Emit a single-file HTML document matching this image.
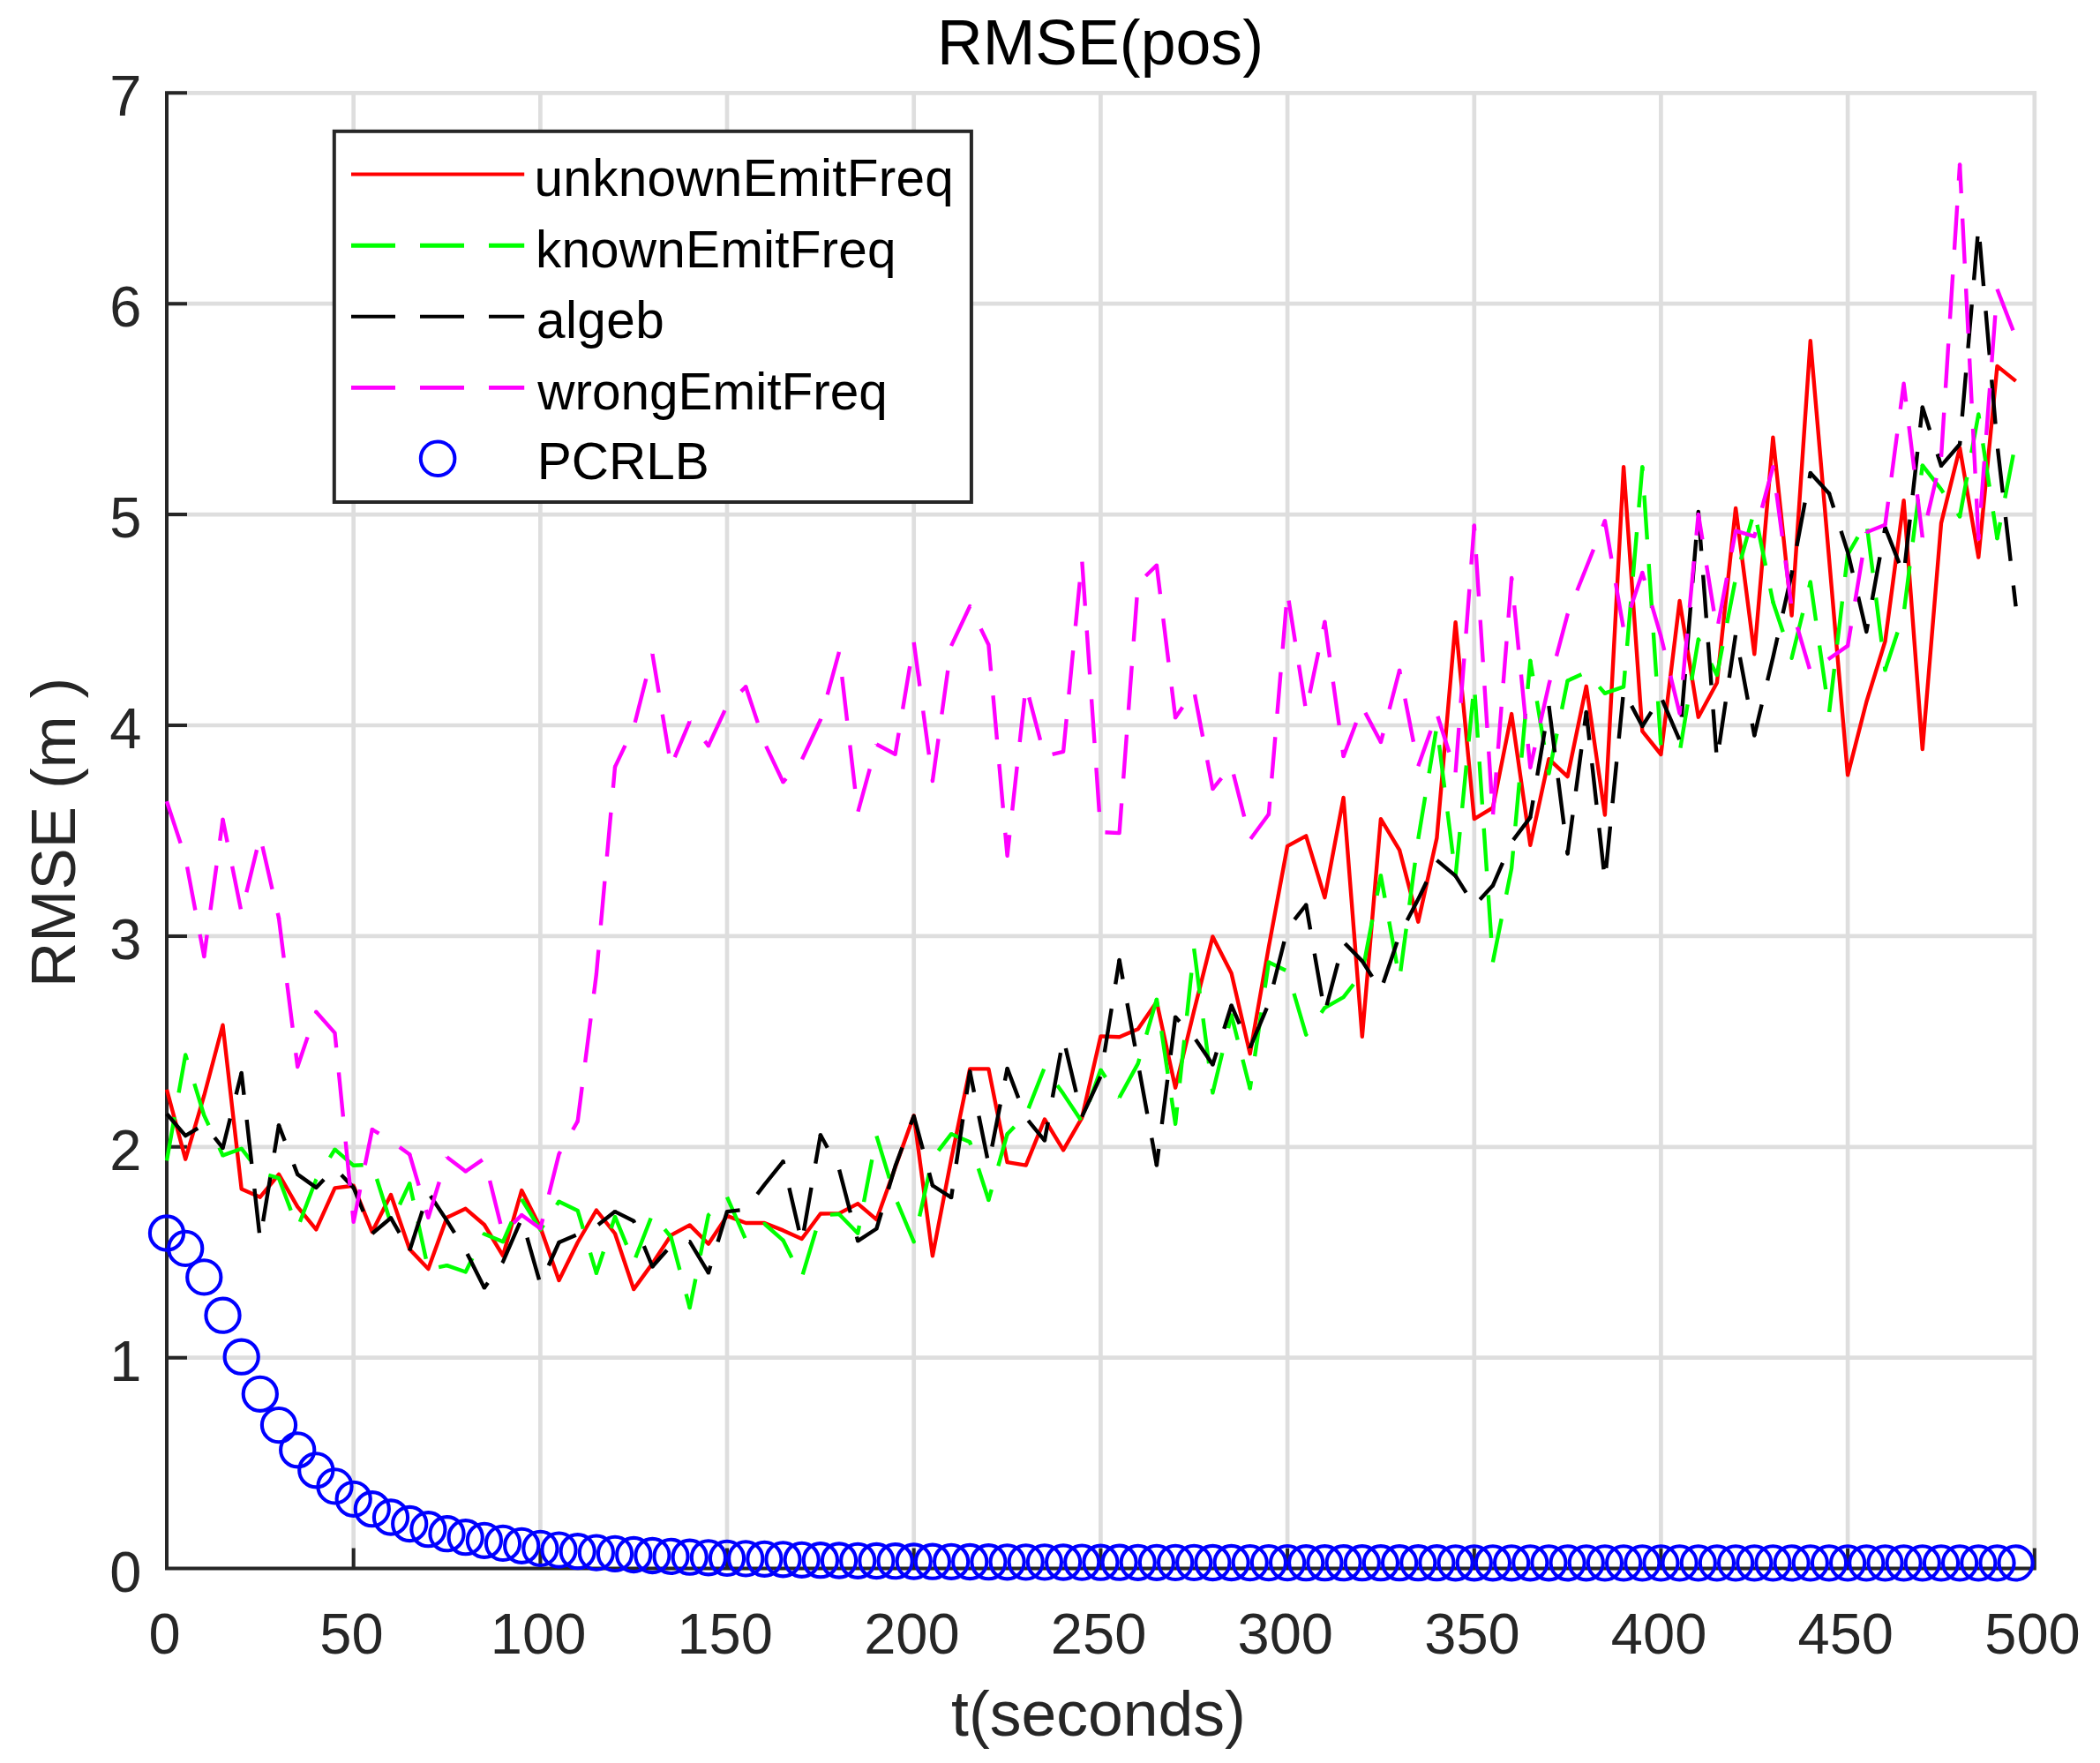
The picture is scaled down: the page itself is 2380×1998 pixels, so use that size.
<!DOCTYPE html><html><head><meta charset="utf-8"><title>RMSE(pos)</title>
<style>html,body{margin:0;padding:0;background:#fff}svg{display:block}text{font-family:"Liberation Sans",sans-serif}</style></head><body>
<svg width="2380" height="1998" viewBox="0 0 2380 1998">
<rect width="2380" height="1998" fill="#fff"/>
<path d="M400.7 103.3 V1777.6 M612.4 103.3 V1777.6 M824.0 103.3 V1777.6 M1035.7 103.3 V1777.6 M1247.4 103.3 V1777.6 M1459.1 103.3 V1777.6 M1670.8 103.3 V1777.6 M1882.4 103.3 V1777.6 M2094.1 103.3 V1777.6 M2305.8 103.3 V1777.6 M189.0 1538.7 H2307.8 M189.0 1299.8 H2307.8 M189.0 1060.9 H2307.8 M189.0 822.0 H2307.8 M189.0 583.1 H2307.8 M189.0 344.2 H2307.8 M189.0 105.3 H2307.8" stroke="#dedede" stroke-width="4.7" fill="none"/>
<path d="M189.0 103.3 V1777.6 H2307.8 M189.0 1777.6 V1754.6 M400.7 1777.6 V1754.6 M612.4 1777.6 V1754.6 M824.0 1777.6 V1754.6 M1035.7 1777.6 V1754.6 M1247.4 1777.6 V1754.6 M1459.1 1777.6 V1754.6 M1670.8 1777.6 V1754.6 M1882.4 1777.6 V1754.6 M2094.1 1777.6 V1754.6 M2305.8 1777.6 V1754.6 M189.0 1777.6 H212.0 M189.0 1538.7 H212.0 M189.0 1299.8 H212.0 M189.0 1060.9 H212.0 M189.0 822.0 H212.0 M189.0 583.1 H212.0 M189.0 344.2 H212.0 M189.0 105.3 H212.0" stroke="#262626" stroke-width="4" fill="none" stroke-linecap="butt"/>
<defs><clipPath id="c"><rect x="187.0" y="103.3" width="2120.8" height="1676.3"/></clipPath></defs>
<g clip-path="url(#c)" fill="none" stroke-width="4.4" stroke-linejoin="round">
<path d="M189.0 1234.8 L210.2 1313.7 L231.3 1241.7 L252.5 1161.7 L273.7 1347.6 L294.8 1356.7 L316.0 1330.9 L337.2 1367.6 L358.3 1393.4 L379.5 1346.4 L400.7 1343.8 L421.8 1396.1 L443.0 1354.0 L464.2 1415.7 L485.4 1438.1 L506.5 1379.8 L527.7 1369.8 L548.9 1388.0 L570.0 1423.1 L591.2 1349.0 L612.4 1391.1 L633.5 1451.0 L654.7 1408.0 L675.9 1371.5 L697.0 1398.0 L718.2 1461.1 L739.4 1431.9 L760.5 1399.9 L781.7 1388.4 L802.9 1409.7 L824.0 1377.9 L845.2 1386.0 L866.4 1386.0 L887.5 1394.4 L908.7 1404.0 L929.9 1375.5 L951.0 1375.1 L972.2 1364.1 L993.4 1382.2 L1014.6 1323.0 L1035.7 1264.2 L1056.9 1423.3 L1078.1 1313.7 L1099.2 1211.4 L1120.4 1211.4 L1141.6 1317.2 L1162.7 1320.6 L1183.9 1268.5 L1205.1 1303.4 L1226.2 1266.8 L1247.4 1174.4 L1268.6 1175.3 L1289.7 1166.3 L1310.9 1135.4 L1332.1 1232.7 L1353.2 1145.7 L1374.4 1061.4 L1395.6 1102.9 L1416.7 1194.2 L1437.9 1073.1 L1459.1 958.9 L1480.2 947.4 L1501.4 1017.2 L1522.6 903.9 L1543.8 1174.9 L1564.9 928.1 L1586.1 963.4 L1607.3 1044.7 L1628.4 949.8 L1649.6 705.2 L1670.8 928.1 L1691.9 915.4 L1713.1 809.1 L1734.3 957.7 L1755.4 860.2 L1776.6 880.1 L1797.8 777.8 L1818.9 923.5 L1840.1 529.1 L1861.3 828.7 L1882.4 855.0 L1903.6 681.0 L1924.8 812.7 L1945.9 773.7 L1967.1 575.9 L1988.3 741.3 L2009.4 495.7 L2030.6 697.5 L2051.8 386.2 L2073.0 633.3 L2094.1 878.4 L2115.3 795.5 L2136.5 726.9 L2157.6 567.1 L2178.8 849.0 L2200.0 592.9 L2221.1 507.6 L2242.3 631.6 L2263.5 414.9 L2284.6 431.9" stroke="#f00"/>
<path d="M189.0 1315.3 L210.2 1195.4 L231.3 1264.0 L252.5 1309.4" stroke="#0f0" stroke-dasharray="50.00 28.00" stroke-dashoffset="0.0"/>
<path d="M252.5 1309.4 L273.7 1301.7 L294.8 1329.2 L316.0 1335.2" stroke="#0f0" stroke-dasharray="49.06 27.47" stroke-dashoffset="9.4"/>
<path d="M316.0 1335.2 L337.2 1391.8 L358.3 1336.8 L379.5 1302.7" stroke="#0f0" stroke-dasharray="51.76 28.98" stroke-dashoffset="12.7"/>
<path d="M379.5 1302.7 L400.7 1320.8 L421.8 1319.6 L443.0 1386.5 L464.2 1341.1" stroke="#0f0" stroke-dasharray="49.00 27.44" stroke-dashoffset="10.2"/>
<path d="M464.2 1341.1 L485.4 1438.8 L506.5 1434.1" stroke="#0f0" stroke-dasharray="43.52 24.37" stroke-dashoffset="23.7"/>
<path d="M506.5 1434.1 L527.7 1441.5 L548.9 1398.5 L570.0 1407.3" stroke="#0f0" stroke-dasharray="50.98 28.55" stroke-dashoffset="11.2"/>
<path d="M570.0 1407.3 L591.2 1359.0" stroke="#0f0" stroke-dasharray="48.35 27.07" stroke-dashoffset="23.7"/>
<path d="M591.2 1359.0 L612.4 1393.7 L633.5 1361.7" stroke="#0f0" stroke-dasharray="48.27 27.03" stroke-dashoffset="1.0"/>
<path d="M633.5 1361.7 L654.7 1371.9 L675.9 1442.9" stroke="#0f0" stroke-dasharray="50.04 28.02" stroke-dashoffset="4.8"/>
<path d="M675.9 1442.9 L697.0 1378.9" stroke="#0f0" stroke-dasharray="49.88 27.93" stroke-dashoffset="24.2"/>
<path d="M697.0 1378.9 L718.2 1430.5 L739.4 1376.0 L760.5 1402.0" stroke="#0f0" stroke-dasharray="47.95 26.85" stroke-dashoffset="13.3"/>
<path d="M760.5 1402.0 L781.7 1482.1" stroke="#0f0" stroke-dasharray="50.54 28.30" stroke-dashoffset="12.1"/>
<path d="M781.7 1482.1 L802.9 1377.0 L824.0 1356.7" stroke="#0f0" stroke-dasharray="48.74 27.29" stroke-dashoffset="15.5"/>
<path d="M824.0 1356.7 L845.2 1404.9 L866.4 1387.0 L887.5 1405.6" stroke="#0f0" stroke-dasharray="50.81 28.45" stroke-dashoffset="0.0"/>
<path d="M887.5 1405.6 L908.7 1447.9 L929.9 1377.4 L951.0 1376.0" stroke="#0f0" stroke-dasharray="51.90 29.06" stroke-dashoffset="30.0"/>
<path d="M951.0 1376.0 L972.2 1397.7 L993.4 1287.4" stroke="#0f0" stroke-dasharray="48.81 27.33" stroke-dashoffset="9.6"/>
<path d="M993.4 1287.4 L1014.6 1357.1 L1035.7 1407.3 L1056.9 1312.7 L1078.1 1285.2" stroke="#0f0" stroke-dasharray="50.23 28.13" stroke-dashoffset="0.0"/>
<path d="M1078.1 1285.2 L1099.2 1294.3 L1120.4 1360.0" stroke="#0f0" stroke-dasharray="50.25 28.14" stroke-dashoffset="23.9"/>
<path d="M1120.4 1360.0 L1141.6 1285.2" stroke="#0f0" stroke-dasharray="49.44 27.68" stroke-dashoffset="37.0"/>
<path d="M1141.6 1285.2 L1162.7 1263.5 L1183.9 1209.7 L1205.1 1239.6 L1226.2 1271.4 L1247.4 1212.6" stroke="#0f0" stroke-dasharray="47.85 26.79" stroke-dashoffset="36.4"/>
<path d="M1247.4 1212.6 L1268.6 1243.9" stroke="#0f0" stroke-dasharray="47.83 26.78" stroke-dashoffset="37.8"/>
<path d="M1268.6 1243.9 L1289.7 1205.4 L1310.9 1132.6" stroke="#0f0" stroke-dasharray="50.63 28.35" stroke-dashoffset="1.0"/>
<path d="M1310.9 1132.6 L1332.1 1273.8 L1353.2 1075.0" stroke="#0f0" stroke-dasharray="49.13 27.51" stroke-dashoffset="40.6"/>
<path d="M1353.2 1075.0 L1374.4 1238.4 L1395.6 1150.5" stroke="#0f0" stroke-dasharray="51.27 28.71" stroke-dashoffset="0.0"/>
<path d="M1395.6 1150.5 L1416.7 1233.6" stroke="#0f0" stroke-dasharray="41.01 22.96" stroke-dashoffset="12.2"/>
<path d="M1416.7 1233.6 L1437.9 1090.5" stroke="#0f0" stroke-dasharray="50.40 28.23" stroke-dashoffset="41.8"/>
<path d="M1437.9 1090.5 L1459.1 1100.6 L1480.2 1172.7 L1501.4 1142.1" stroke="#0f0" stroke-dasharray="50.71 28.40" stroke-dashoffset="29.4"/>
<path d="M1501.4 1142.1 L1522.6 1130.2 L1543.8 1102.9 L1564.9 992.1" stroke="#0f0" stroke-dasharray="49.81 27.89" stroke-dashoffset="6.9"/>
<path d="M1564.9 992.1 L1586.1 1109.6" stroke="#0f0" stroke-dasharray="48.35 27.08" stroke-dashoffset="22.4"/>
<path d="M1586.1 1109.6 L1607.3 950.8 L1628.4 823.0" stroke="#0f0" stroke-dasharray="48.43 27.12" stroke-dashoffset="66.5"/>
<path d="M1628.4 823.0 L1649.6 993.1 L1670.8 776.1 L1691.9 1090.3" stroke="#0f0" stroke-dasharray="48.63 27.23" stroke-dashoffset="54.4"/>
<path d="M1691.9 1090.3 L1713.1 984.0 L1734.3 748.7" stroke="#0f0" stroke-dasharray="50.05 28.03" stroke-dashoffset="0.0"/>
<path d="M1734.3 748.7 L1755.4 876.5 L1776.6 771.4" stroke="#0f0" stroke-dasharray="50.51 28.28" stroke-dashoffset="32.6"/>
<path d="M1776.6 771.4 L1797.8 761.8 L1818.9 785.7" stroke="#0f0" stroke-dasharray="50.13 28.07" stroke-dashoffset="32.8"/>
<path d="M1818.9 785.7 L1840.1 778.3 L1861.3 529.1" stroke="#0f0" stroke-dasharray="50.50 28.28" stroke-dashoffset="9.8"/>
<path d="M1861.3 529.1 L1882.4 844.7 L1903.6 852.6 L1924.8 724.5 L1945.9 764.9" stroke="#0f0" stroke-dasharray="49.92 27.95" stroke-dashoffset="45.4"/>
<path d="M1945.9 764.9 L1967.1 655.5 L1988.3 578.8 L2009.4 682.2" stroke="#0f0" stroke-dasharray="47.23 26.45" stroke-dashoffset="13.8"/>
<path d="M2009.4 682.2 L2030.6 745.8 L2051.8 659.5" stroke="#0f0" stroke-dasharray="53.64 30.04" stroke-dashoffset="17.8"/>
<path d="M2051.8 659.5 L2073.0 808.1" stroke="#0f0" stroke-dasharray="50.30 28.17" stroke-dashoffset="5.8"/>
<path d="M2073.0 808.1 L2094.1 628.5" stroke="#0f0" stroke-dasharray="49.43 27.68" stroke-dashoffset="76.1"/>
<path d="M2094.1 628.5 L2115.3 591.7" stroke="#0f0" stroke-dasharray="47.69 26.71" stroke-dashoffset="24.8"/>
<path d="M2115.3 591.7 L2136.5 759.4" stroke="#0f0" stroke-dasharray="50.46 28.26" stroke-dashoffset="71.1"/>
<path d="M2136.5 759.4 L2157.6 695.1 L2178.8 527.4" stroke="#0f0" stroke-dasharray="49.03 27.45" stroke-dashoffset="3.9"/>
<path d="M2178.8 527.4 L2200.0 554.7 L2221.1 585.5" stroke="#0f0" stroke-dasharray="50.62 28.35" stroke-dashoffset="11.5"/>
<path d="M2221.1 585.5 L2242.3 469.4 L2263.5 610.3" stroke="#0f0" stroke-dasharray="49.91 27.95" stroke-dashoffset="4.4"/>
<path d="M2263.5 610.3 L2284.6 500.4" stroke="#0f0" stroke-dasharray="50.00 28.00" stroke-dashoffset="31.4"/>
<circle cx="252.5" cy="1309.4" r="2.2" fill="#0f0" stroke="none"/>
<circle cx="316.0" cy="1335.2" r="2.2" fill="#0f0" stroke="none"/>
<circle cx="379.5" cy="1302.7" r="2.2" fill="#0f0" stroke="none"/>
<circle cx="464.2" cy="1341.1" r="2.2" fill="#0f0" stroke="none"/>
<circle cx="506.5" cy="1434.1" r="2.2" fill="#0f0" stroke="none"/>
<circle cx="570.0" cy="1407.3" r="2.2" fill="#0f0" stroke="none"/>
<circle cx="633.5" cy="1361.7" r="2.2" fill="#0f0" stroke="none"/>
<circle cx="675.9" cy="1442.9" r="2.2" fill="#0f0" stroke="none"/>
<circle cx="697.0" cy="1378.9" r="2.2" fill="#0f0" stroke="none"/>
<circle cx="760.5" cy="1402.0" r="2.2" fill="#0f0" stroke="none"/>
<circle cx="781.7" cy="1482.1" r="2.2" fill="#0f0" stroke="none"/>
<circle cx="887.5" cy="1405.6" r="2.2" fill="#0f0" stroke="none"/>
<circle cx="951.0" cy="1376.0" r="2.2" fill="#0f0" stroke="none"/>
<circle cx="1078.1" cy="1285.2" r="2.2" fill="#0f0" stroke="none"/>
<circle cx="1120.4" cy="1360.0" r="2.2" fill="#0f0" stroke="none"/>
<circle cx="1141.6" cy="1285.2" r="2.2" fill="#0f0" stroke="none"/>
<circle cx="1247.4" cy="1212.6" r="2.2" fill="#0f0" stroke="none"/>
<circle cx="1310.9" cy="1132.6" r="2.2" fill="#0f0" stroke="none"/>
<circle cx="1395.6" cy="1150.5" r="2.2" fill="#0f0" stroke="none"/>
<circle cx="1416.7" cy="1233.6" r="2.2" fill="#0f0" stroke="none"/>
<circle cx="1437.9" cy="1090.5" r="2.2" fill="#0f0" stroke="none"/>
<circle cx="1501.4" cy="1142.1" r="2.2" fill="#0f0" stroke="none"/>
<circle cx="1564.9" cy="992.1" r="2.2" fill="#0f0" stroke="none"/>
<circle cx="1734.3" cy="748.7" r="2.2" fill="#0f0" stroke="none"/>
<circle cx="1776.6" cy="771.4" r="2.2" fill="#0f0" stroke="none"/>
<circle cx="1818.9" cy="785.7" r="2.2" fill="#0f0" stroke="none"/>
<circle cx="1861.3" cy="529.1" r="2.2" fill="#0f0" stroke="none"/>
<circle cx="1945.9" cy="764.9" r="2.2" fill="#0f0" stroke="none"/>
<circle cx="2009.4" cy="682.2" r="2.2" fill="#0f0" stroke="none"/>
<circle cx="2051.8" cy="659.5" r="2.2" fill="#0f0" stroke="none"/>
<circle cx="2094.1" cy="628.5" r="2.2" fill="#0f0" stroke="none"/>
<circle cx="2136.5" cy="759.4" r="2.2" fill="#0f0" stroke="none"/>
<circle cx="2178.8" cy="527.4" r="2.2" fill="#0f0" stroke="none"/>
<circle cx="2221.1" cy="585.5" r="2.2" fill="#0f0" stroke="none"/>
<circle cx="2263.5" cy="610.3" r="2.2" fill="#0f0" stroke="none"/>
<path d="M189.0 1262.3 L210.2 1287.1 L231.3 1274.2 L252.5 1301.0" stroke="#000" stroke-dasharray="49.06 27.47" stroke-dashoffset="0.0"/>
<path d="M252.5 1301.0 L273.7 1215.9" stroke="#000" stroke-dasharray="49.85 27.92" stroke-dashoffset="15.3"/>
<path d="M273.7 1215.9 L294.8 1404.7 L316.0 1275.2" stroke="#000" stroke-dasharray="50.46 28.26" stroke-dashoffset="25.4"/>
<path d="M316.0 1275.2 L337.2 1330.9" stroke="#000" stroke-dasharray="50.81 28.46" stroke-dashoffset="31.9"/>
<path d="M337.2 1330.9 L358.3 1345.9 L379.5 1323.9 L400.7 1345.9" stroke="#000" stroke-dasharray="50.76 28.43" stroke-dashoffset="12.2"/>
<path d="M400.7 1345.9 L421.8 1398.0" stroke="#000" stroke-dasharray="48.21 27.00" stroke-dashoffset="19.0"/>
<path d="M421.8 1398.0 L443.0 1380.3" stroke="#000" stroke-dasharray="51.45 28.81" stroke-dashoffset="0.0"/>
<path d="M443.0 1380.3 L464.2 1417.3" stroke="#000" stroke-dasharray="41.65 23.33" stroke-dashoffset="22.3"/>
<path d="M464.2 1417.3 L485.4 1351.4" stroke="#000" stroke-dasharray="47.17 26.42" stroke-dashoffset="0.0"/>
<path d="M485.4 1351.4 L506.5 1383.4 L527.7 1417.3 L548.9 1459.4" stroke="#000" stroke-dasharray="49.94 27.96" stroke-dashoffset="73.3"/>
<path d="M548.9 1459.4 L570.0 1430.0 L591.2 1381.0 L612.4 1455.1 L633.5 1408.0" stroke="#000" stroke-dasharray="49.59 27.77" stroke-dashoffset="42.6"/>
<path d="M633.5 1408.0 L654.7 1398.9 L675.9 1389.6 L697.0 1373.1" stroke="#000" stroke-dasharray="49.86 27.92" stroke-dashoffset="28.9"/>
<path d="M697.0 1373.1 L718.2 1383.7 L739.4 1435.5" stroke="#000" stroke-dasharray="50.53 28.30" stroke-dashoffset="24.5"/>
<path d="M739.4 1435.5 L760.5 1411.6 L781.7 1407.1 L802.9 1442.4" stroke="#000" stroke-dasharray="49.94 27.96" stroke-dashoffset="25.0"/>
<path d="M802.9 1442.4 L824.0 1373.1" stroke="#000" stroke-dasharray="50.66 28.37" stroke-dashoffset="42.5"/>
<path d="M824.0 1373.1 L845.2 1370.5 L866.4 1342.6 L887.5 1316.3" stroke="#000" stroke-dasharray="50.30 28.17" stroke-dashoffset="35.6"/>
<path d="M887.5 1316.3 L908.7 1408.0 L929.9 1286.2" stroke="#000" stroke-dasharray="49.39 27.66" stroke-dashoffset="46.4"/>
<path d="M929.9 1286.2 L951.0 1325.1 L972.2 1406.3" stroke="#000" stroke-dasharray="50.30 28.17" stroke-dashoffset="33.7"/>
<path d="M972.2 1406.3 L993.4 1392.5 L1014.6 1321.8 L1035.7 1264.7 L1056.9 1343.5" stroke="#000" stroke-dasharray="49.52 27.73" stroke-dashoffset="5.0"/>
<path d="M1056.9 1343.5 L1078.1 1357.1" stroke="#000" stroke-dasharray="49.55 27.75" stroke-dashoffset="14.9"/>
<path d="M1078.1 1357.1 L1099.2 1214.3" stroke="#000" stroke-dasharray="51.18 28.66" stroke-dashoffset="41.4"/>
<path d="M1099.2 1214.3 L1120.4 1319.4 L1141.6 1210.9" stroke="#000" stroke-dasharray="48.86 27.36" stroke-dashoffset="24.9"/>
<path d="M1141.6 1210.9 L1162.7 1266.8 L1183.9 1292.6" stroke="#000" stroke-dasharray="50.08 28.05" stroke-dashoffset="14.3"/>
<path d="M1183.9 1292.6 L1205.1 1176.5 L1226.2 1265.6" stroke="#000" stroke-dasharray="51.20 28.67" stroke-dashoffset="30.0"/>
<path d="M1226.2 1265.6 L1247.4 1220.0 L1268.6 1087.9" stroke="#000" stroke-dasharray="50.08 28.05" stroke-dashoffset="0.0"/>
<path d="M1268.6 1087.9 L1289.7 1204.7 L1310.9 1320.6" stroke="#000" stroke-dasharray="49.75 27.86" stroke-dashoffset="27.7"/>
<path d="M1310.9 1320.6 L1332.1 1152.6" stroke="#000" stroke-dasharray="50.59 28.33" stroke-dashoffset="31.9"/>
<path d="M1332.1 1152.6 L1353.2 1175.3 L1374.4 1206.6" stroke="#000" stroke-dasharray="48.67 27.25" stroke-dashoffset="41.7"/>
<path d="M1374.4 1206.6 L1395.6 1139.5" stroke="#000" stroke-dasharray="50.21 28.12" stroke-dashoffset="35.6"/>
<path d="M1395.6 1139.5 L1416.7 1187.5" stroke="#000" stroke-dasharray="51.05 28.59" stroke-dashoffset="28.2"/>
<path d="M1416.7 1187.5 L1437.9 1137.1 L1459.1 1052.5 L1480.2 1025.5" stroke="#000" stroke-dasharray="49.99 27.99" stroke-dashoffset="1.0"/>
<path d="M1480.2 1025.5 L1501.4 1147.6 L1522.6 1067.4 L1543.8 1089.1" stroke="#000" stroke-dasharray="49.20 27.55" stroke-dashoffset="20.9"/>
<path d="M1543.8 1089.1 L1564.9 1122.3 L1586.1 1059.5 L1607.3 1019.1 L1628.4 974.9" stroke="#000" stroke-dasharray="48.68 27.26" stroke-dashoffset="27.6"/>
<path d="M1628.4 974.9 L1649.6 992.6" stroke="#000" stroke-dasharray="52.43 29.36" stroke-dashoffset="0.0"/>
<path d="M1649.6 992.6 L1670.8 1026.3 L1691.9 1003.6" stroke="#000" stroke-dasharray="47.66 26.69" stroke-dashoffset="25.1"/>
<path d="M1691.9 1003.6 L1713.1 954.4 L1734.3 926.4" stroke="#000" stroke-dasharray="51.29 28.72" stroke-dashoffset="23.2"/>
<path d="M1734.3 926.4 L1755.4 800.0" stroke="#000" stroke-dasharray="51.26 28.70" stroke-dashoffset="31.8"/>
<path d="M1755.4 800.0 L1776.6 967.5" stroke="#000" stroke-dasharray="52.82 29.58" stroke-dashoffset="0.0"/>
<path d="M1776.6 967.5 L1797.8 806.9" stroke="#000" stroke-dasharray="48.08 26.92" stroke-dashoffset="3.7"/>
<path d="M1797.8 806.9 L1818.9 997.6 L1840.1 782.8 L1861.3 823.0" stroke="#000" stroke-dasharray="47.26 26.46" stroke-dashoffset="15.3"/>
<path d="M1861.3 823.0 L1882.4 789.7" stroke="#000" stroke-dasharray="42.34 23.71" stroke-dashoffset="23.3"/>
<path d="M1882.4 789.7 L1903.6 839.0 L1924.8 580.0 L1945.9 861.7 L1967.1 718.8 L1988.3 833.5" stroke="#000" stroke-dasharray="48.91 27.39" stroke-dashoffset="72.4"/>
<path d="M1988.3 833.5 L2009.4 745.1 L2030.6 650.2 L2051.8 536.0" stroke="#000" stroke-dasharray="50.00 28.00" stroke-dashoffset="14.0"/>
<path d="M2051.8 536.0 L2073.0 559.2" stroke="#000" stroke-dasharray="58.78 32.91" stroke-dashoffset="7.3"/>
<path d="M2073.0 559.2 L2094.1 625.6 L2115.3 715.9 L2136.5 597.9" stroke="#000" stroke-dasharray="49.45 27.69" stroke-dashoffset="32.5"/>
<path d="M2136.5 597.9 L2157.6 651.4 L2178.8 461.5" stroke="#000" stroke-dasharray="49.53 27.74" stroke-dashoffset="6.3"/>
<path d="M2178.8 461.5 L2200.0 527.9" stroke="#000" stroke-dasharray="50.95 28.53" stroke-dashoffset="23.8"/>
<path d="M2200.0 527.9 L2221.1 503.5 L2242.3 257.0" stroke="#000" stroke-dasharray="49.74 27.85" stroke-dashoffset="13.7"/>
<path d="M2242.3 257.0 L2263.5 503.5" stroke="#000" stroke-dasharray="50.30 28.17" stroke-dashoffset="61.4"/>
<path d="M2263.5 503.5 L2284.6 687.3" stroke="#000" stroke-dasharray="50.00 28.00" stroke-dashoffset="73.0"/>
<circle cx="252.5" cy="1301.0" r="2.2" fill="#000" stroke="none"/>
<circle cx="273.7" cy="1215.9" r="2.2" fill="#000" stroke="none"/>
<circle cx="316.0" cy="1275.2" r="2.2" fill="#000" stroke="none"/>
<circle cx="337.2" cy="1330.9" r="2.2" fill="#000" stroke="none"/>
<circle cx="400.7" cy="1345.9" r="2.2" fill="#000" stroke="none"/>
<circle cx="443.0" cy="1380.3" r="2.2" fill="#000" stroke="none"/>
<circle cx="548.9" cy="1459.4" r="2.2" fill="#000" stroke="none"/>
<circle cx="633.5" cy="1408.0" r="2.2" fill="#000" stroke="none"/>
<circle cx="697.0" cy="1373.1" r="2.2" fill="#000" stroke="none"/>
<circle cx="739.4" cy="1435.5" r="2.2" fill="#000" stroke="none"/>
<circle cx="802.9" cy="1442.4" r="2.2" fill="#000" stroke="none"/>
<circle cx="824.0" cy="1373.1" r="2.2" fill="#000" stroke="none"/>
<circle cx="887.5" cy="1316.3" r="2.2" fill="#000" stroke="none"/>
<circle cx="929.9" cy="1286.2" r="2.2" fill="#000" stroke="none"/>
<circle cx="972.2" cy="1406.3" r="2.2" fill="#000" stroke="none"/>
<circle cx="1056.9" cy="1343.5" r="2.2" fill="#000" stroke="none"/>
<circle cx="1078.1" cy="1357.1" r="2.2" fill="#000" stroke="none"/>
<circle cx="1099.2" cy="1214.3" r="2.2" fill="#000" stroke="none"/>
<circle cx="1141.6" cy="1210.9" r="2.2" fill="#000" stroke="none"/>
<circle cx="1183.9" cy="1292.6" r="2.2" fill="#000" stroke="none"/>
<circle cx="1268.6" cy="1087.9" r="2.2" fill="#000" stroke="none"/>
<circle cx="1310.9" cy="1320.6" r="2.2" fill="#000" stroke="none"/>
<circle cx="1332.1" cy="1152.6" r="2.2" fill="#000" stroke="none"/>
<circle cx="1374.4" cy="1206.6" r="2.2" fill="#000" stroke="none"/>
<circle cx="1395.6" cy="1139.5" r="2.2" fill="#000" stroke="none"/>
<circle cx="1480.2" cy="1025.5" r="2.2" fill="#000" stroke="none"/>
<circle cx="1543.8" cy="1089.1" r="2.2" fill="#000" stroke="none"/>
<circle cx="1649.6" cy="992.6" r="2.2" fill="#000" stroke="none"/>
<circle cx="1691.9" cy="1003.6" r="2.2" fill="#000" stroke="none"/>
<circle cx="1734.3" cy="926.4" r="2.2" fill="#000" stroke="none"/>
<circle cx="1776.6" cy="967.5" r="2.2" fill="#000" stroke="none"/>
<circle cx="1797.8" cy="806.9" r="2.2" fill="#000" stroke="none"/>
<circle cx="1861.3" cy="823.0" r="2.2" fill="#000" stroke="none"/>
<circle cx="1988.3" cy="833.5" r="2.2" fill="#000" stroke="none"/>
<circle cx="2051.8" cy="536.0" r="2.2" fill="#000" stroke="none"/>
<circle cx="2073.0" cy="559.2" r="2.2" fill="#000" stroke="none"/>
<circle cx="2136.5" cy="597.9" r="2.2" fill="#000" stroke="none"/>
<circle cx="2178.8" cy="461.5" r="2.2" fill="#000" stroke="none"/>
<circle cx="2200.0" cy="527.9" r="2.2" fill="#000" stroke="none"/>
<path d="M189.0 908.2 L210.2 972.5 L231.3 1084.1" stroke="#f0f" stroke-dasharray="49.89 27.94" stroke-dashoffset="0.0"/>
<path d="M231.3 1084.1 L252.5 928.8" stroke="#f0f" stroke-dasharray="50.88 28.49" stroke-dashoffset="26.1"/>
<path d="M252.5 928.8 L273.7 1034.4 L294.8 947.7 L316.0 1040.4" stroke="#f0f" stroke-dasharray="49.63 27.79" stroke-dashoffset="23.4"/>
<path d="M316.0 1040.4 L337.2 1209.0 L358.3 1146.7" stroke="#f0f" stroke-dasharray="51.29 28.72" stroke-dashoffset="5.9"/>
<path d="M358.3 1146.7 L379.5 1170.6 L400.7 1384.8 L421.8 1280.0" stroke="#f0f" stroke-dasharray="50.42 28.23" stroke-dashoffset="1.7"/>
<path d="M421.8 1280.0 L443.0 1293.1 L464.2 1308.2" stroke="#f0f" stroke-dasharray="49.89 27.94" stroke-dashoffset="40.9"/>
<path d="M464.2 1308.2 L485.4 1379.8 L506.5 1311.3" stroke="#f0f" stroke-dasharray="51.22 28.68" stroke-dashoffset="14.3"/>
<path d="M506.5 1311.3 L527.7 1327.5" stroke="#f0f" stroke-dasharray="51.31 28.74" stroke-dashoffset="1.0"/>
<path d="M527.7 1327.5 L548.9 1312.9 L570.0 1398.0 L591.2 1377.0" stroke="#f0f" stroke-dasharray="50.52 28.29" stroke-dashoffset="27.3"/>
<path d="M591.2 1377.0 L612.4 1392.3" stroke="#f0f" stroke-dasharray="50.22 28.12" stroke-dashoffset="12.8"/>
<path d="M612.4 1392.3 L633.5 1307.9 L654.7 1270.7" stroke="#f0f" stroke-dasharray="50.59 28.33" stroke-dashoffset="39.2"/>
<path d="M654.7 1270.7 L675.9 1103.9 L697.0 869.1" stroke="#f0f" stroke-dasharray="50.15 28.08" stroke-dashoffset="11.0"/>
<path d="M697.0 869.1 L718.2 824.6 L739.4 741.0" stroke="#f0f" stroke-dasharray="51.01 28.56" stroke-dashoffset="24.2"/>
<path d="M739.4 741.0 L760.5 868.1 L781.7 817.7" stroke="#f0f" stroke-dasharray="44.87 25.13" stroke-dashoffset="0.4"/>
<path d="M781.7 817.7 L802.9 845.2" stroke="#f0f" stroke-dasharray="48.44 27.13" stroke-dashoffset="47.5"/>
<path d="M802.9 845.2 L824.0 799.5 L845.2 778.3" stroke="#f0f" stroke-dasharray="51.15 28.64" stroke-dashoffset="7.0"/>
<path d="M845.2 778.3 L866.4 841.8 L887.5 886.3" stroke="#f0f" stroke-dasharray="50.30 28.17" stroke-dashoffset="7.3"/>
<path d="M887.5 886.3 L908.7 861.2 L929.9 815.8 L951.0 738.9" stroke="#f0f" stroke-dasharray="50.62 28.35" stroke-dashoffset="45.4"/>
<path d="M951.0 738.9 L972.2 920.7" stroke="#f0f" stroke-dasharray="49.87 27.93" stroke-dashoffset="49.4"/>
<path d="M972.2 920.7 L993.4 843.5" stroke="#f0f" stroke-dasharray="50.20 28.11" stroke-dashoffset="77.3"/>
<path d="M993.4 843.5 L1014.6 854.7" stroke="#f0f" stroke-dasharray="48.70 27.27" stroke-dashoffset="0.7"/>
<path d="M1014.6 854.7 L1035.7 727.9" stroke="#f0f" stroke-dasharray="49.20 27.55" stroke-dashoffset="24.9"/>
<path d="M1035.7 727.9 L1056.9 885.1 L1078.1 731.9" stroke="#f0f" stroke-dasharray="50.19 28.11" stroke-dashoffset="0.0"/>
<path d="M1078.1 731.9 L1099.2 687.0 L1120.4 730.7 L1141.6 969.9 L1162.7 777.1 L1183.9 857.1 L1205.1 851.9 L1226.2 634.2" stroke="#f0f" stroke-dasharray="50.00 28.00" stroke-dashoffset="0.0"/>
<path d="M1226.2 634.2 L1247.4 942.9 L1268.6 944.1 L1289.7 661.2 L1310.9 640.7" stroke="#f0f" stroke-dasharray="50.00 28.00" stroke-dashoffset="75.5"/>
<path d="M1310.9 640.7 L1332.1 813.2" stroke="#f0f" stroke-dasharray="49.91 27.95" stroke-dashoffset="17.2"/>
<path d="M1332.1 813.2 L1353.2 782.8 L1374.4 894.1" stroke="#f0f" stroke-dasharray="48.52 27.17" stroke-dashoffset="34.3"/>
<path d="M1374.4 894.1 L1395.6 867.9 L1416.7 951.5 L1437.9 922.8" stroke="#f0f" stroke-dasharray="49.63 27.79" stroke-dashoffset="33.9"/>
<path d="M1437.9 922.8 L1459.1 671.3 L1480.2 805.8 L1501.4 704.7" stroke="#f0f" stroke-dasharray="47.27 26.47" stroke-dashoffset="33.1"/>
<path d="M1501.4 704.7 L1522.6 857.1" stroke="#f0f" stroke-dasharray="49.90 27.94" stroke-dashoffset="9.3"/>
<path d="M1522.6 857.1 L1543.8 801.0 L1564.9 841.1" stroke="#f0f" stroke-dasharray="47.90 26.82" stroke-dashoffset="7.2"/>
<path d="M1564.9 841.1 L1586.1 759.6" stroke="#f0f" stroke-dasharray="50.16 28.09" stroke-dashoffset="39.6"/>
<path d="M1586.1 759.6 L1607.3 868.3" stroke="#f0f" stroke-dasharray="50.06 28.04" stroke-dashoffset="45.5"/>
<path d="M1607.3 868.3 L1628.4 808.6 L1649.6 875.3" stroke="#f0f" stroke-dasharray="42.72 23.93" stroke-dashoffset="0.0"/>
<path d="M1649.6 875.3 L1670.8 595.5" stroke="#f0f" stroke-dasharray="50.51 28.29" stroke-dashoffset="0.0"/>
<path d="M1670.8 595.5 L1691.9 924.5 L1713.1 655.0" stroke="#f0f" stroke-dasharray="47.82 26.78" stroke-dashoffset="41.8"/>
<path d="M1713.1 655.0 L1734.3 869.8" stroke="#f0f" stroke-dasharray="50.52 28.29" stroke-dashoffset="47.5"/>
<path d="M1734.3 869.8 L1755.4 775.9 L1776.6 696.1 L1797.8 643.3 L1818.9 590.3" stroke="#f0f" stroke-dasharray="50.07 28.04" stroke-dashoffset="26.6"/>
<path d="M1818.9 590.3 L1840.1 713.1 L1861.3 649.0" stroke="#f0f" stroke-dasharray="50.46 28.26" stroke-dashoffset="7.1"/>
<path d="M1861.3 649.0 L1882.4 721.2 L1903.6 808.6 L1924.8 582.9 L1945.9 714.3 L1967.1 601.7" stroke="#f0f" stroke-dasharray="52.76 29.55" stroke-dashoffset="43.6"/>
<path d="M1967.1 601.7 L1988.3 607.9 L2009.4 529.1" stroke="#f0f" stroke-dasharray="50.68 28.38" stroke-dashoffset="23.6"/>
<path d="M2009.4 529.1 L2030.6 689.4 L2051.8 761.1 L2073.0 746.5 L2094.1 731.9" stroke="#f0f" stroke-dasharray="49.34 27.63" stroke-dashoffset="47.0"/>
<path d="M2094.1 731.9 L2115.3 603.2" stroke="#f0f" stroke-dasharray="50.35 28.19" stroke-dashoffset="27.5"/>
<path d="M2115.3 603.2 L2136.5 594.8" stroke="#f0f" stroke-dasharray="50.13 28.07" stroke-dashoffset="0.9"/>
<path d="M2136.5 594.8 L2157.6 434.7 L2178.8 608.9" stroke="#f0f" stroke-dasharray="49.93 27.96" stroke-dashoffset="23.6"/>
<path d="M2178.8 608.9 L2200.0 518.4" stroke="#f0f" stroke-dasharray="43.65 24.45" stroke-dashoffset="42.8"/>
<path d="M2200.0 518.4 L2221.1 186.5" stroke="#f0f" stroke-dasharray="50.30 28.17" stroke-dashoffset="78.0"/>
<path d="M2221.1 186.5 L2242.3 610.8" stroke="#f0f" stroke-dasharray="50.96 28.54" stroke-dashoffset="18.3"/>
<path d="M2242.3 610.8 L2263.5 327.7" stroke="#f0f" stroke-dasharray="53.12 29.75" stroke-dashoffset="47.6"/>
<path d="M2263.5 327.7 L2284.6 382.4" stroke="#f0f" stroke-dasharray="50.00 28.00" stroke-dashoffset="0.0"/>
<circle cx="231.3" cy="1084.1" r="2.2" fill="#f0f" stroke="none"/>
<circle cx="252.5" cy="928.8" r="2.2" fill="#f0f" stroke="none"/>
<circle cx="316.0" cy="1040.4" r="2.2" fill="#f0f" stroke="none"/>
<circle cx="358.3" cy="1146.7" r="2.2" fill="#f0f" stroke="none"/>
<circle cx="421.8" cy="1280.0" r="2.2" fill="#f0f" stroke="none"/>
<circle cx="464.2" cy="1308.2" r="2.2" fill="#f0f" stroke="none"/>
<circle cx="527.7" cy="1327.5" r="2.2" fill="#f0f" stroke="none"/>
<circle cx="591.2" cy="1377.0" r="2.2" fill="#f0f" stroke="none"/>
<circle cx="612.4" cy="1392.3" r="2.2" fill="#f0f" stroke="none"/>
<circle cx="654.7" cy="1270.7" r="2.2" fill="#f0f" stroke="none"/>
<circle cx="697.0" cy="869.1" r="2.2" fill="#f0f" stroke="none"/>
<circle cx="802.9" cy="845.2" r="2.2" fill="#f0f" stroke="none"/>
<circle cx="845.2" cy="778.3" r="2.2" fill="#f0f" stroke="none"/>
<circle cx="887.5" cy="886.3" r="2.2" fill="#f0f" stroke="none"/>
<circle cx="1014.6" cy="854.7" r="2.2" fill="#f0f" stroke="none"/>
<circle cx="1310.9" cy="640.7" r="2.2" fill="#f0f" stroke="none"/>
<circle cx="1332.1" cy="813.2" r="2.2" fill="#f0f" stroke="none"/>
<circle cx="1374.4" cy="894.1" r="2.2" fill="#f0f" stroke="none"/>
<circle cx="1437.9" cy="922.8" r="2.2" fill="#f0f" stroke="none"/>
<circle cx="1501.4" cy="704.7" r="2.2" fill="#f0f" stroke="none"/>
<circle cx="1522.6" cy="857.1" r="2.2" fill="#f0f" stroke="none"/>
<circle cx="1564.9" cy="841.1" r="2.2" fill="#f0f" stroke="none"/>
<circle cx="1586.1" cy="759.6" r="2.2" fill="#f0f" stroke="none"/>
<circle cx="1670.8" cy="595.5" r="2.2" fill="#f0f" stroke="none"/>
<circle cx="1713.1" cy="655.0" r="2.2" fill="#f0f" stroke="none"/>
<circle cx="1734.3" cy="869.8" r="2.2" fill="#f0f" stroke="none"/>
<circle cx="1818.9" cy="590.3" r="2.2" fill="#f0f" stroke="none"/>
<circle cx="1861.3" cy="649.0" r="2.2" fill="#f0f" stroke="none"/>
<circle cx="1967.1" cy="601.7" r="2.2" fill="#f0f" stroke="none"/>
<circle cx="2009.4" cy="529.1" r="2.2" fill="#f0f" stroke="none"/>
<circle cx="2094.1" cy="731.9" r="2.2" fill="#f0f" stroke="none"/>
<circle cx="2136.5" cy="594.8" r="2.2" fill="#f0f" stroke="none"/>
<circle cx="2221.1" cy="186.5" r="2.2" fill="#f0f" stroke="none"/>
<circle cx="2242.3" cy="610.8" r="2.2" fill="#f0f" stroke="none"/>
</g>
<g fill="none" stroke="#00f" stroke-width="4.1">
<circle cx="189.0" cy="1397.5" r="19.1"/>
<circle cx="210.2" cy="1414.9" r="19.1"/>
<circle cx="231.3" cy="1447.4" r="19.1"/>
<circle cx="252.5" cy="1490.7" r="19.1"/>
<circle cx="273.7" cy="1537.7" r="19.1"/>
<circle cx="294.8" cy="1579.8" r="19.1"/>
<circle cx="316.0" cy="1615.1" r="19.1"/>
<circle cx="337.2" cy="1643.3" r="19.1"/>
<circle cx="358.3" cy="1666.3" r="19.1"/>
<circle cx="379.5" cy="1684.4" r="19.1"/>
<circle cx="400.7" cy="1698.8" r="19.1"/>
<circle cx="421.8" cy="1710.2" r="19.1"/>
<circle cx="443.0" cy="1719.5" r="19.1"/>
<circle cx="464.2" cy="1727.0" r="19.1"/>
<circle cx="485.4" cy="1733.2" r="19.1"/>
<circle cx="506.5" cy="1738.2" r="19.1"/>
<circle cx="527.7" cy="1742.2" r="19.1"/>
<circle cx="548.9" cy="1745.8" r="19.1"/>
<circle cx="570.0" cy="1748.9" r="19.1"/>
<circle cx="591.2" cy="1751.8" r="19.1"/>
<circle cx="612.4" cy="1754.9" r="19.1"/>
<circle cx="633.5" cy="1756.6" r="19.1"/>
<circle cx="654.7" cy="1758.2" r="19.1"/>
<circle cx="675.9" cy="1759.6" r="19.1"/>
<circle cx="697.0" cy="1760.9" r="19.1"/>
<circle cx="718.2" cy="1762.0" r="19.1"/>
<circle cx="739.4" cy="1763.0" r="19.1"/>
<circle cx="760.5" cy="1763.9" r="19.1"/>
<circle cx="781.7" cy="1764.7" r="19.1"/>
<circle cx="802.9" cy="1765.3" r="19.1"/>
<circle cx="824.0" cy="1765.9" r="19.1"/>
<circle cx="845.2" cy="1766.4" r="19.1"/>
<circle cx="866.4" cy="1766.8" r="19.1"/>
<circle cx="887.5" cy="1767.3" r="19.1"/>
<circle cx="908.7" cy="1767.8" r="19.1"/>
<circle cx="929.9" cy="1768.2" r="19.1"/>
<circle cx="951.0" cy="1768.5" r="19.1"/>
<circle cx="972.2" cy="1768.8" r="19.1"/>
<circle cx="993.4" cy="1769.0" r="19.1"/>
<circle cx="1014.6" cy="1769.2" r="19.1"/>
<circle cx="1035.7" cy="1769.5" r="19.1"/>
<circle cx="1056.9" cy="1769.7" r="19.1"/>
<circle cx="1078.1" cy="1769.8" r="19.1"/>
<circle cx="1099.2" cy="1770.0" r="19.1"/>
<circle cx="1120.4" cy="1770.2" r="19.1"/>
<circle cx="1141.6" cy="1770.3" r="19.1"/>
<circle cx="1162.7" cy="1770.4" r="19.1"/>
<circle cx="1183.9" cy="1770.4" r="19.1"/>
<circle cx="1205.1" cy="1770.5" r="19.1"/>
<circle cx="1226.2" cy="1770.6" r="19.1"/>
<circle cx="1247.4" cy="1770.7" r="19.1"/>
<circle cx="1268.6" cy="1770.7" r="19.1"/>
<circle cx="1289.7" cy="1770.8" r="19.1"/>
<circle cx="1310.9" cy="1770.8" r="19.1"/>
<circle cx="1332.1" cy="1770.9" r="19.1"/>
<circle cx="1353.2" cy="1770.9" r="19.1"/>
<circle cx="1374.4" cy="1771.0" r="19.1"/>
<circle cx="1395.6" cy="1771.0" r="19.1"/>
<circle cx="1416.7" cy="1771.1" r="19.1"/>
<circle cx="1437.9" cy="1771.1" r="19.1"/>
<circle cx="1459.1" cy="1771.1" r="19.1"/>
<circle cx="1480.2" cy="1771.2" r="19.1"/>
<circle cx="1501.4" cy="1771.2" r="19.1"/>
<circle cx="1522.6" cy="1771.2" r="19.1"/>
<circle cx="1543.8" cy="1771.2" r="19.1"/>
<circle cx="1564.9" cy="1771.2" r="19.1"/>
<circle cx="1586.1" cy="1771.2" r="19.1"/>
<circle cx="1607.3" cy="1771.2" r="19.1"/>
<circle cx="1628.4" cy="1771.2" r="19.1"/>
<circle cx="1649.6" cy="1771.3" r="19.1"/>
<circle cx="1670.8" cy="1771.3" r="19.1"/>
<circle cx="1691.9" cy="1771.3" r="19.1"/>
<circle cx="1713.1" cy="1771.3" r="19.1"/>
<circle cx="1734.3" cy="1771.3" r="19.1"/>
<circle cx="1755.4" cy="1771.3" r="19.1"/>
<circle cx="1776.6" cy="1771.3" r="19.1"/>
<circle cx="1797.8" cy="1771.3" r="19.1"/>
<circle cx="1818.9" cy="1771.4" r="19.1"/>
<circle cx="1840.1" cy="1771.4" r="19.1"/>
<circle cx="1861.3" cy="1771.4" r="19.1"/>
<circle cx="1882.4" cy="1771.4" r="19.1"/>
<circle cx="1903.6" cy="1771.4" r="19.1"/>
<circle cx="1924.8" cy="1771.4" r="19.1"/>
<circle cx="1945.9" cy="1771.4" r="19.1"/>
<circle cx="1967.1" cy="1771.4" r="19.1"/>
<circle cx="1988.3" cy="1771.4" r="19.1"/>
<circle cx="2009.4" cy="1771.4" r="19.1"/>
<circle cx="2030.6" cy="1771.4" r="19.1"/>
<circle cx="2051.8" cy="1771.4" r="19.1"/>
<circle cx="2073.0" cy="1771.4" r="19.1"/>
<circle cx="2094.1" cy="1771.4" r="19.1"/>
<circle cx="2115.3" cy="1771.4" r="19.1"/>
<circle cx="2136.5" cy="1771.4" r="19.1"/>
<circle cx="2157.6" cy="1771.4" r="19.1"/>
<circle cx="2178.8" cy="1771.4" r="19.1"/>
<circle cx="2200.0" cy="1771.4" r="19.1"/>
<circle cx="2221.1" cy="1771.4" r="19.1"/>
<circle cx="2242.3" cy="1771.4" r="19.1"/>
<circle cx="2263.5" cy="1771.4" r="19.1"/>
<circle cx="2284.6" cy="1771.4" r="19.1"/>
</g>
<g fill="#262626" font-size="65px">
<text x="186.7" y="1873.5" text-anchor="middle">0</text>
<text x="398.4" y="1873.5" text-anchor="middle">50</text>
<text x="610.1" y="1873.5" text-anchor="middle">100</text>
<text x="821.7" y="1873.5" text-anchor="middle">150</text>
<text x="1033.4" y="1873.5" text-anchor="middle">200</text>
<text x="1245.1" y="1873.5" text-anchor="middle">250</text>
<text x="1456.8" y="1873.5" text-anchor="middle">300</text>
<text x="1668.5" y="1873.5" text-anchor="middle">350</text>
<text x="1880.1" y="1873.5" text-anchor="middle">400</text>
<text x="2091.8" y="1873.5" text-anchor="middle">450</text>
<text x="2303.5" y="1873.5" text-anchor="middle">500</text>
<text x="160.5" y="1803.6" text-anchor="end">0</text>
<text x="160.5" y="1564.7" text-anchor="end">1</text>
<text x="160.5" y="1325.8" text-anchor="end">2</text>
<text x="160.5" y="1086.9" text-anchor="end">3</text>
<text x="160.5" y="848.0" text-anchor="end">4</text>
<text x="160.5" y="609.1" text-anchor="end">5</text>
<text x="160.5" y="370.2" text-anchor="end">6</text>
<text x="160.5" y="131.3" text-anchor="end">7</text>
</g>
<text x="1247" y="72.7" font-size="71.6px" text-anchor="middle" fill="#000">RMSE(pos)</text>
<text x="1245" y="1966.7" font-size="71.5px" text-anchor="middle" fill="#262626">t(seconds)</text>
<text transform="translate(85 943.4) rotate(-90)" font-size="71px" text-anchor="middle" fill="#262626">RMSE (m )</text>
<rect x="378.8" y="148.8" width="722.1" height="420.2" fill="#fff" stroke="#262626" stroke-width="4"/>
<g fill="none" stroke-width="4.6">
<path d="M398 197.5H594.2" stroke="#f00" stroke-width="4.2"/>
<path d="M398 278.2H594.2" stroke="#0f0" stroke-width="5" stroke-dasharray="50 28"/>
<path d="M398 358.8H594.2" stroke="#000" stroke-width="4.1" stroke-dasharray="50 28"/>
<path d="M398 439.4H594.2" stroke="#f0f" stroke-dasharray="50 28"/>
<circle cx="496.1" cy="519.8" r="19.3" stroke="#00f" stroke-width="4"/>
</g>
<g fill="#000" font-size="58.5px">
<text x="605.5" y="222.3" letter-spacing="0.28">unknownEmitFreq</text>
<text x="607.0" y="303.0" letter-spacing="0.17">knownEmitFreq</text>
<text x="608.0" y="383.4" letter-spacing="0.40">algeb</text>
<text x="609.2" y="463.7" letter-spacing="0.00">wrongEmitFreq</text>
<text x="608.8" y="542.6" letter-spacing="0.00">PCRLB</text>
</g>
</svg></body></html>
